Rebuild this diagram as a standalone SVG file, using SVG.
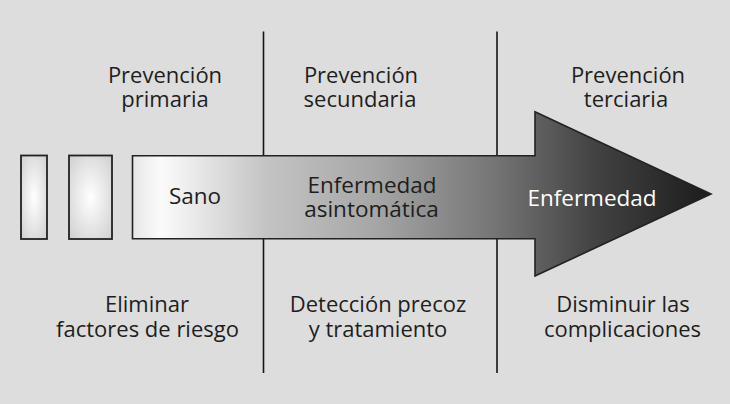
<svg xmlns="http://www.w3.org/2000/svg" width="730" height="404" viewBox="0 0 730 404">
  <style>
    .lbl { font-family: "Open Sans", "Liberation Sans", Arial, sans-serif; font-size: 22px; fill: #1e1e1e; text-anchor: middle; }
    .in { font-family: "Open Sans", "Liberation Sans", Arial, sans-serif; font-size: 22.5px; fill: #1e1e1e; text-anchor: middle; }
    .inw { fill: #ffffff; }
    .div { stroke: #151515; stroke-width: 1.6; fill: none; }
    .box { stroke: #222; stroke-width: 1.8; fill: url(#rg); }
  </style>
  <defs>
    <radialGradient id="rg" cx="0.5" cy="0.5" r="0.7">
      <stop offset="0" stop-color="#ffffff"/>
      <stop offset="1" stop-color="#cfcfcf"/>
    </radialGradient>
    <linearGradient id="ag" gradientUnits="userSpaceOnUse" x1="132" y1="0" x2="711" y2="0">
      <stop offset="0" stop-color="#e6e6e6"/>
      <stop offset="0.05" stop-color="#fbfbfb"/>
      <stop offset="0.23" stop-color="#c4c4c4"/>
      <stop offset="0.42" stop-color="#a6a6a6"/>
      <stop offset="0.63" stop-color="#747474"/>
      <stop offset="0.8" stop-color="#424242"/>
      <stop offset="1" stop-color="#1c1c1c"/>
    </linearGradient>
  </defs>
  <rect x="0" y="0" width="730" height="404" fill="#dddddd"/>
  <g id="connectors">
    <line class="div" x1="263.5" y1="31.5" x2="263.5" y2="373"/>
    <line class="div" x1="497" y1="31.5" x2="497" y2="373"/>
  </g>
  <g id="box1"><rect class="box" x="21" y="155.5" width="26" height="83.5"/></g>
  <g id="box2"><rect class="box" x="69" y="155.5" width="43" height="83.5"/></g>
  <g id="arrow">
    <path d="M132.5,155.7 L535,155.7 L535,111.7 L711,194 L535,276 L535,238.7 L132.5,238.7 Z" fill="url(#ag)" stroke="#222" stroke-width="1.6" stroke-linejoin="miter"/>
    <text class="in" x="195" y="204.3">Sano</text>
    <text class="in" x="372" y="193.3">Enfermedad</text>
    <text class="in" x="371.5" y="217.3">asintomática</text>
    <text class="in inw" x="592" y="206">Enfermedad</text>
  </g>
  <g id="prev1">
    <text class="lbl" x="165" y="82.5">Prevención</text>
    <text class="lbl" x="165" y="106.5">primaria</text>
  </g>
  <g id="prev2">
    <text class="lbl" x="361" y="82.5">Prevención</text>
    <text class="lbl" x="360" y="106.5">secundaria</text>
  </g>
  <g id="prev3">
    <text class="lbl" x="628" y="82.5">Prevención</text>
    <text class="lbl" x="626" y="106.5">terciaria</text>
  </g>
  <g id="act1">
    <text class="lbl" x="147" y="312">Eliminar</text>
    <text class="lbl" x="147.5" y="336.5">factores de riesgo</text>
  </g>
  <g id="act2">
    <text class="lbl" x="378" y="312">Detección precoz</text>
    <text class="lbl" x="378" y="336.5">y tratamiento</text>
  </g>
  <g id="act3">
    <text class="lbl" x="623" y="312">Disminuir las</text>
    <text class="lbl" x="622.5" y="336.5">complicaciones</text>
  </g>
</svg>
